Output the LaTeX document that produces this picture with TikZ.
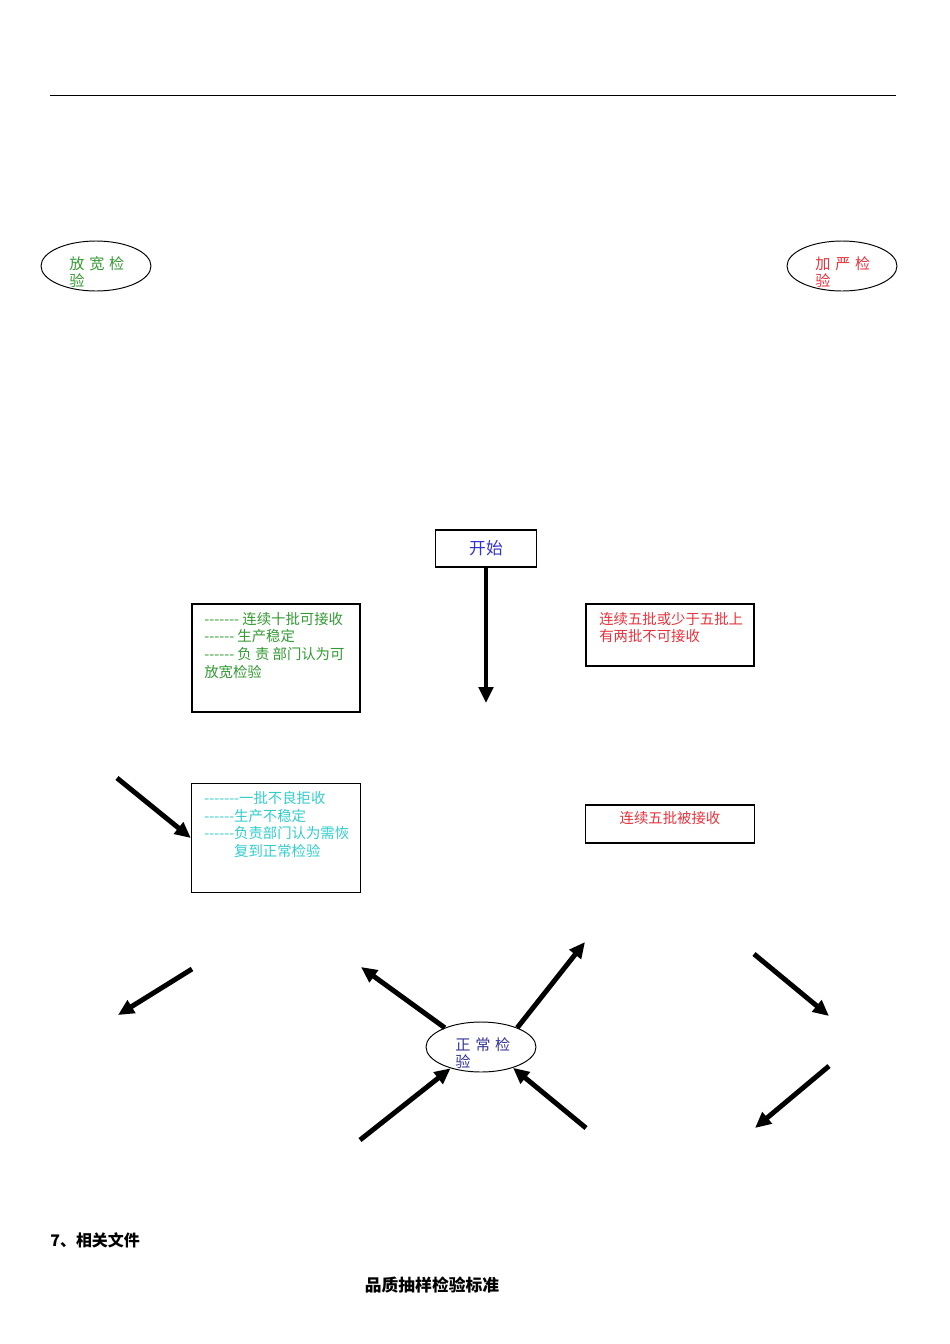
\documentclass[tikz,border=0pt]{standalone}
\usepackage{fontspec}
\setmainfont{Noto Sans CJK SC}[Ligatures=TeXOff]
\usetikzlibrary{arrows.meta,shapes.geometric}
\definecolor{kuan}{RGB}{51,153,51}
\definecolor{yan}{RGB}{232,50,60}
\definecolor{kai}{RGB}{51,51,204}
\definecolor{hui}{RGB}{51,204,204}
\definecolor{zheng}{RGB}{51,51,153}
\newcommand\pxu{0.6263pt}
\begin{document}
\begin{tikzpicture}[x=\pxu,y=-\pxu,
 kuang/.style={draw,line width=.8pt,inner sep=0pt},
 tuoyuan/.style={draw,ellipse,line width=.6pt,inner sep=0pt,
  minimum width=110*\pxu,minimum height=50*\pxu},
 wenzi/.style={inner sep=0pt,anchor=north west,align=left,
  font=\fontsize{9}{11}\selectfont},
 tyzi/.style={wenzi,font=\fontsize{9.5}{11}\selectfont}]
 \useasboundingbox (0,0) rectangle (950,1344);
 \draw[line width=.6pt] (50,95)--(896,95);
 \path
 (96,266) node[tuoyuan] (fk) {} % <<< ba ellipse
 (842,266) node[tuoyuan] (jy) {}
 (481,1047) node[tuoyuan] (zc) {}
 (486,548.5) node[kuang,minimum width=101*\pxu,minimum height=37*\pxu,
  text=kai,font=\fontsize{10.5}{12}\selectfont] (ks) {开始}
 (276,658) node[kuang,minimum width=168*\pxu,minimum height=108*\pxu] (tj1) {} % <<< khung
 (276,838) node[kuang,minimum width=169*\pxu,minimum height=109*\pxu] (tj2) {}
 (670,635) node[kuang,minimum width=168*\pxu,minimum height=62*\pxu] (tj3) {}
 (670,824) node[kuang,minimum width=169*\pxu,minimum height=38*\pxu] (tj4) {};
 \path
 (69,256) node[tyzi,text=kuan] (fkt) {放\hspace{3pt}宽\hspace{3pt}检\\验}
 (815,256) node[tyzi,text=yan] (jyt) {加\hspace{3pt}严\hspace{3pt}检\\验}
 (455,1037) node[tyzi,text=zheng] (zct) {正\hspace{3pt}常\hspace{3pt}检\\验}
 (204,612) node[wenzi,text=kuan] (tj1t) {------- 连续十批可接收\\------ 生产稳定\\------ 负 责 部门认为可\\放宽检验}
 (204,791) node[wenzi,text=hui] (tj2t) {-------一批不良拒收\\------生产不稳定\\------负责部门认为需恢\\\phantom{------}复到正常检验}
 (599,612) node[wenzi,text=yan] (tj3t) {连续五批或少于五批上\\有两批不可接收}
 (670,818) node[wenzi,anchor=center,text=yan] (tj4t) {连续五批被接收}
 (50,1240) node[anchor=west,inner sep=0pt,font=\bfseries\fontsize{10}{12}\selectfont] (xg) {7、相关文件}
 (432,1285) node[inner sep=0pt,font=\bfseries\fontsize{10.5}{12}\selectfont] (pz) {品质抽样检验标准};
 \coordinate (a9) at (486,703);
 \coordinate (a1) at (117,778);
 \coordinate (b1) at (192,969);
 \coordinate (b2) at (118,1015);
 \coordinate (c1) at (361,967);
 \coordinate (c2) at (585,942);
 \coordinate (c3) at (360,1140);
 \coordinate (c4) at (586,1128);
 \coordinate (d1) at (754,954);
 \coordinate (d2) at (829,1016);
 \coordinate (d3) at (829,1066);
 \coordinate (d4) at (755,1128);
 \begin{scope}[line width=3.1pt,-{Triangle[length=10pt,width=9pt]}]
 \draw (ks.south)--(a9);
 \draw (a1)--(tj2.west);
 \draw (b1)--(b2);
 \draw (zc.152)--(c1);
 \draw (zc.28)--(c2);
 \draw (c3)--(zc.215);
 \draw (c4)--(zc.327);
 \draw (d1)--(d2);
 \draw (d3)--(d4);
 \end{scope}
\end{tikzpicture}
\end{document}
